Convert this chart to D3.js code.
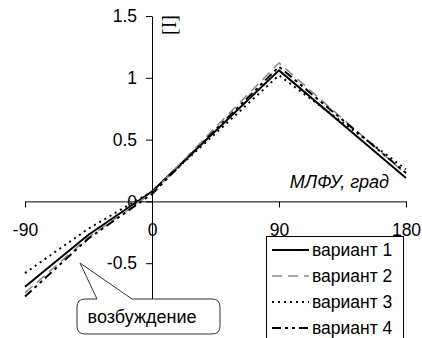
<!DOCTYPE html>
<html>
<head>
<meta charset="utf-8">
<script src="https://cdnjs.cloudflare.com/ajax/libs/d3/7.8.5/d3.min.js"></script>
<style>
body { margin: 0; background: #fff; }
svg { display: block; font-family: "Liberation Sans", Arial, sans-serif; }
</style>
</head>
<body>
<script>
// phase angles, degrees
var angles = [-90, -45, 0, 45, 90, 180];

var variant1 = [-0.69, -0.27, 0.08, 0.57, 1.06, 0.19];
var variant2 = [-0.74, -0.29, 0.07, 0.60, 1.12, 0.22];
var variant3 = [-0.58, -0.22, 0.08, 0.55, 1.02, 0.26];
var variant4 = [-0.77, -0.30, 0.06, 0.58, 1.09, 0.23];

var seriesNames = ['вариант 1', 'вариант 2', 'вариант 3', 'вариант 4'];
var xTicks = [-90, 0, 90, 180];
var yTicks = [-0.5, 0, 0.5, 1, 1.5];

var styles = [
	{stroke: '#000', width: 2, dash: null},
	{stroke: '#888', width: 1.5, dash: '10,6'},
	{stroke: '#000', width: 2, dash: '2,4'},
	{stroke: '#000', width: 2, dash: '9,4,3,4,3,4'}
];

var series = [variant1, variant2, variant3, variant4].map((vals, i) => ({
	name: seriesNames[i],
	points: vals.map((v, j) => ({x: angles[j], y: v}))
}));

var fontSize = 17.5;

var svg = d3.select('body').append('svg').attr('width', 422).attr('height', 338);

var x = d3.scaleLinear().domain([-90, 180]).range([25, 406]);
var y = d3.scaleLinear().domain([-1, 1.5]).range([325, 16]);

// x axis through zero
svg.append('g')
	.attr('transform', 'translate(0,' + y(0) + ')')
	.call(d3.axisBottom(x).tickValues(xTicks).tickSize(6).tickSizeOuter(0).tickPadding(16).tickFormat(d => d));

// y axis through zero
svg.append('g')
	.attr('transform', 'translate(' + x(0) + ',0)')
	.call(d3.axisLeft(y).tickValues(yTicks).tickSize(6).tickSizeOuter(0).tickPadding(9).tickFormat(d => d));

svg.selectAll('.domain, .tick line').attr('stroke', '#000').attr('stroke-width', 1);
svg.selectAll('.tick text').attr('font-size', fontSize).attr('fill', '#000')
	.attr('font-family', '"Liberation Sans", Arial, sans-serif');

// axis titles
svg.append('text')
	.attr('transform', 'translate(176,25) rotate(-90)')
	.attr('text-anchor', 'middle')
	.attr('font-family', '"Liberation Serif", "Times New Roman", serif')
	.attr('font-size', 20)
	.text('[I]');

svg.append('text')
	.attr('x', 389)
	.attr('y', 188)
	.attr('text-anchor', 'end')
	.attr('font-style', 'italic')
	.attr('font-size', 18)
	.text('МЛФУ, град');

// lines
var line = d3.line().x(d => x(d.x)).y(d => y(d.y));

svg.selectAll('path.series')
	.data(series)
	.enter().append('path')
		.attr('class', 'series')
		.attr('d', d => line(d.points))
		.attr('fill', 'none')
		.attr('stroke', (d, i) => styles[i].stroke)
		.attr('stroke-width', (d, i) => styles[i].width)
		.attr('stroke-dasharray', (d, i) => styles[i].dash);

// legend
var legend = svg.append('g');
legend.append('rect')
	.attr('x', 266.5).attr('y', 236.5)
	.attr('width', 137).attr('height', 110)
	.attr('fill', '#fff').attr('stroke', '#000');

var items = legend.selectAll('g.item')
	.data(series)
	.enter().append('g')
		.attr('class', 'item')
		.attr('transform', (d, i) => 'translate(0,' + (250 + i * 26) + ')');

items.append('line')
	.attr('x1', 272).attr('x2', 309)
	.attr('stroke', (d, i) => styles[i].stroke)
	.attr('stroke-width', (d, i) => styles[i].width)
	.attr('stroke-dasharray', (d, i) => styles[i].dash);

items.append('text')
	.attr('x', 312)
	.attr('dy', '0.35em')
	.attr('font-size', fontSize)
	.text(d => d.name);

// callout
var bx = 77, by = 299, bw = 143, bh = 35, r = 8;
var callout = 'M' + (bx + r) + ',' + by
	+ 'L97,' + by + 'L80,263L132,' + by
	+ 'L' + (bx + bw - r) + ',' + by
	+ 'Q' + (bx + bw) + ',' + by + ' ' + (bx + bw) + ',' + (by + r)
	+ 'L' + (bx + bw) + ',' + (by + bh - r)
	+ 'Q' + (bx + bw) + ',' + (by + bh) + ' ' + (bx + bw - r) + ',' + (by + bh)
	+ 'L' + (bx + r) + ',' + (by + bh)
	+ 'Q' + bx + ',' + (by + bh) + ' ' + bx + ',' + (by + bh - r)
	+ 'L' + bx + ',' + (by + r)
	+ 'Q' + bx + ',' + by + ' ' + (bx + r) + ',' + by + 'Z';

svg.append('path')
	.attr('d', callout)
	.attr('fill', '#fff')
	.attr('stroke', '#333')
	.attr('stroke-width', 1);

svg.append('text')
	.attr('x', 142)
	.attr('y', 323)
	.attr('text-anchor', 'middle')
	.attr('font-size', 18)
	.text('возбуждение');
</script>
</body>
</html>
